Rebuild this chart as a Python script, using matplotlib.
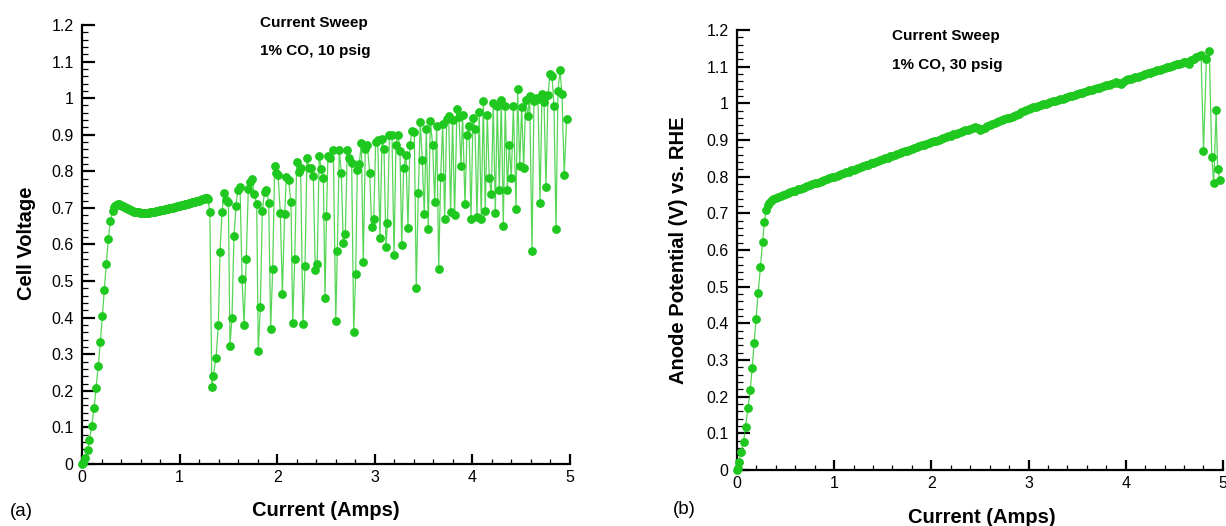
import matplotlib
matplotlib.use('Agg')
import matplotlib.pyplot as plt
from matplotlib.ticker import MultipleLocator, FuncFormatter

plt.rcParams['font.family'] = ['Liberation Sans', 'DejaVu Sans']

# (a) cell voltage, 1% CO, 10 psig
rise_a_i = [0.0, 0.013, 0.034, 0.058, 0.075, 0.099, 0.123, 0.143, 0.167, 0.188,
            0.208, 0.229, 0.249, 0.27, 0.29, 0.314]
rise_a_v = [0.0, 0.002, 0.016, 0.038, 0.066, 0.104, 0.152, 0.207, 0.269, 0.334,
            0.404, 0.475, 0.548, 0.614, 0.665, 0.692]

plateau_a_i = [0.33, 0.34, 0.35, 0.36, 0.37, 0.38, 0.39, 0.40, 0.41, 0.42,
               0.43, 0.44, 0.45, 0.46, 0.47, 0.48, 0.49, 0.50, 0.51, 0.52,
               0.53, 0.54, 0.55, 0.56, 0.57, 0.58, 0.59, 0.60, 0.61, 0.62,
               0.63, 0.64, 0.65, 0.66, 0.67, 0.68, 0.69, 0.70, 0.71, 0.72,
               0.73, 0.74, 0.75, 0.76, 0.77, 0.78, 0.79, 0.80, 0.81, 0.82,
               0.83, 0.84, 0.85, 0.86, 0.87, 0.88, 0.89, 0.90, 0.91, 0.92,
               0.93, 0.94, 0.95, 0.96, 0.97, 0.98, 0.99, 1.00, 1.01, 1.02,
               1.03, 1.04, 1.05, 1.06, 1.07, 1.08, 1.09, 1.10, 1.11, 1.12,
               1.13, 1.14, 1.15, 1.16, 1.17, 1.18, 1.19, 1.20, 1.21, 1.22,
               1.23, 1.24, 1.25, 1.26, 1.27, 1.28, 1.29]
plateau_a_v = [0.703, 0.706, 0.708, 0.709, 0.710, 0.710, 0.709, 0.708, 0.706, 0.705,
               0.703, 0.702, 0.700, 0.699, 0.697, 0.696, 0.694, 0.693, 0.692, 0.691,
               0.690, 0.690, 0.689, 0.689, 0.688, 0.688, 0.687, 0.687, 0.686, 0.686,
               0.686, 0.686, 0.686, 0.686, 0.686, 0.687, 0.687, 0.688, 0.688, 0.689,
               0.689, 0.690, 0.690, 0.691, 0.691, 0.692, 0.692, 0.693, 0.693, 0.694,
               0.695, 0.695, 0.696, 0.697, 0.697, 0.698, 0.699, 0.699, 0.700, 0.701,
               0.701, 0.702, 0.703, 0.703, 0.704, 0.705, 0.705, 0.706, 0.707, 0.707,
               0.708, 0.709, 0.709, 0.710, 0.711, 0.711, 0.712, 0.713, 0.714, 0.714,
               0.715, 0.716, 0.717, 0.717, 0.718, 0.719, 0.720, 0.720, 0.721, 0.722,
               0.723, 0.724, 0.725, 0.726, 0.727, 0.726, 0.724]

sweep_a_i = [1.31, 1.33, 1.345, 1.373, 1.397, 1.414, 1.434, 1.455, 1.475, 1.50,
             1.516, 1.537, 1.557, 1.578, 1.595, 1.619, 1.64, 1.66, 1.683, 1.704,
             1.72, 1.742, 1.766, 1.79, 1.806, 1.827, 1.848, 1.87, 1.89, 1.913,
             1.933, 1.954, 1.974, 1.988, 2.008, 2.032, 2.053, 2.076, 2.094, 2.117,
             2.141, 2.159, 2.18, 2.20, 2.22, 2.24, 2.264, 2.285, 2.305, 2.326,
             2.35, 2.37, 2.39, 2.41, 2.43, 2.452, 2.473, 2.49, 2.505, 2.52,
             2.54, 2.575, 2.60, 2.616, 2.636, 2.657, 2.677, 2.698, 2.718, 2.739,
             2.763, 2.784, 2.804, 2.821, 2.841, 2.862, 2.882, 2.903, 2.923, 2.948,
             2.968, 2.989, 3.009, 3.03, 3.053, 3.074, 3.094, 3.115, 3.13, 3.15,
             3.176, 3.197, 3.217, 3.238, 3.258, 3.276, 3.296, 3.32, 3.34, 3.36,
             3.381, 3.405, 3.425, 3.446, 3.466, 3.487, 3.507, 3.528, 3.548, 3.569,
             3.593, 3.614, 3.634, 3.655, 3.675, 3.696, 3.716, 3.737, 3.757, 3.777,
             3.797, 3.818, 3.842, 3.863, 3.883, 3.90, 3.924, 3.945, 3.965, 3.986,
             4.006, 4.027, 4.047, 4.07, 4.091, 4.112, 4.132, 4.153, 4.173, 4.194,
             4.214, 4.235, 4.255, 4.276, 4.296, 4.317, 4.337, 4.358, 4.378, 4.399,
             4.42, 4.447, 4.464, 4.485, 4.505, 4.526, 4.546, 4.567, 4.587, 4.611,
             4.631, 4.652, 4.672, 4.693, 4.713, 4.734, 4.754, 4.775, 4.795, 4.816,
             4.836, 4.857, 4.877, 4.898, 4.918, 4.941, 4.966]
sweep_a_v = [0.688, 0.21, 0.24, 0.29, 0.38, 0.58, 0.688, 0.742, 0.721, 0.715,
             0.322, 0.40, 0.623, 0.705, 0.749, 0.758, 0.505, 0.38, 0.561, 0.751,
             0.77, 0.778, 0.737, 0.71, 0.309, 0.429, 0.691, 0.744, 0.75, 0.714,
             0.369, 0.533, 0.815, 0.796, 0.791, 0.687, 0.464, 0.682, 0.785, 0.776,
             0.715, 0.386, 0.561, 0.825, 0.799, 0.808, 0.382, 0.542, 0.836, 0.81,
             0.809, 0.787, 0.53, 0.546, 0.842, 0.806, 0.781, 0.454, 0.678, 0.842,
             0.837, 0.858, 0.392, 0.582, 0.858, 0.796, 0.605, 0.628, 0.858, 0.837,
             0.824, 0.361, 0.518, 0.803, 0.82, 0.878, 0.553, 0.86, 0.873, 0.796,
             0.647, 0.669, 0.881, 0.885, 0.617, 0.888, 0.862, 0.594, 0.66, 0.899,
             0.90, 0.571, 0.872, 0.899, 0.856, 0.598, 0.81, 0.844, 0.646, 0.873,
             0.91, 0.908, 0.48, 0.74, 0.934, 0.83, 0.683, 0.915, 0.641, 0.937,
             0.872, 0.715, 0.924, 0.534, 0.785, 0.928, 0.671, 0.944, 0.952, 0.689,
             0.94, 0.68, 0.969, 0.949, 0.815, 0.955, 0.71, 0.90, 0.924, 0.669,
             0.946, 0.916, 0.674, 0.962, 0.669, 0.992, 0.692, 0.955, 0.781, 0.737,
             0.988, 0.687, 0.979, 0.749, 0.996, 0.651, 0.978, 0.75, 0.872, 0.781,
             0.978, 0.696, 1.024, 0.814, 0.977, 0.808, 0.996, 0.951, 1.005, 0.582,
             0.992, 1.001, 0.997, 0.714, 1.01, 0.99, 0.758, 1.008, 1.065, 1.061,
             0.979, 0.641, 1.019, 1.077, 1.01, 0.79, 0.943]

# (b) anode potential vs RHE, 1% CO, 30 psig
rise_b_i = [0.0, 0.007, 0.024, 0.04, 0.068, 0.089, 0.113, 0.137, 0.157, 0.177,
            0.198, 0.218, 0.242, 0.263, 0.283, 0.30, 0.317]
rise_b_v = [0.0, 0.005, 0.023, 0.05, 0.077, 0.118, 0.168, 0.218, 0.279, 0.345,
            0.413, 0.484, 0.554, 0.622, 0.677, 0.71, 0.722]

line_b_i = [0.325, 0.35, 0.375, 0.40, 0.425, 0.45, 0.475, 0.50, 0.525, 0.55,
            0.575, 0.60, 0.625, 0.65, 0.675, 0.70, 0.725, 0.75, 0.775, 0.80,
            0.825, 0.85, 0.875, 0.90, 0.925, 0.95, 0.975, 1.00, 1.025, 1.05,
            1.075, 1.10, 1.125, 1.15, 1.175, 1.20, 1.225, 1.25, 1.275, 1.30,
            1.325, 1.35, 1.375, 1.40, 1.425, 1.45, 1.475, 1.50, 1.525, 1.55,
            1.575, 1.60, 1.625, 1.65, 1.675, 1.70, 1.725, 1.75, 1.775, 1.80,
            1.825, 1.85, 1.875, 1.90, 1.925, 1.95, 1.975, 2.00, 2.025, 2.05,
            2.075, 2.10, 2.125, 2.15, 2.175, 2.20, 2.225, 2.25, 2.275, 2.30,
            2.325, 2.35, 2.375, 2.40, 2.425, 2.45, 2.475, 2.50, 2.525, 2.55,
            2.575, 2.60, 2.625, 2.65, 2.675, 2.70, 2.725, 2.75, 2.775, 2.80,
            2.825, 2.85, 2.875, 2.90, 2.925, 2.95, 2.975, 3.00, 3.025, 3.05,
            3.075, 3.10, 3.125, 3.15, 3.175, 3.20, 3.225, 3.25, 3.275, 3.30,
            3.325, 3.35, 3.375, 3.40, 3.425, 3.45, 3.475, 3.50, 3.525, 3.55,
            3.575, 3.60, 3.625, 3.65, 3.675, 3.70, 3.725, 3.75, 3.775, 3.80,
            3.825, 3.85, 3.875, 3.90, 3.925, 3.95, 3.975, 4.00, 4.025, 4.05,
            4.075, 4.10, 4.125, 4.15, 4.175, 4.20, 4.225, 4.25, 4.275, 4.30,
            4.325, 4.35, 4.375, 4.40, 4.425, 4.45, 4.475, 4.50, 4.525, 4.55,
            4.575, 4.60, 4.625, 4.65, 4.675, 4.70, 4.725, 4.75, 4.775]
line_b_v = [0.727, 0.733, 0.738, 0.741, 0.744, 0.747, 0.750, 0.752, 0.755, 0.757,
            0.760, 0.762, 0.765, 0.767, 0.770, 0.772, 0.775, 0.777, 0.780, 0.782,
            0.784, 0.786, 0.789, 0.791, 0.794, 0.796, 0.798, 0.800, 0.802, 0.805,
            0.807, 0.810, 0.812, 0.814, 0.817, 0.819, 0.822, 0.824, 0.826, 0.829,
            0.831, 0.833, 0.836, 0.838, 0.841, 0.843, 0.845, 0.848, 0.850, 0.852,
            0.855, 0.857, 0.860, 0.862, 0.864, 0.866, 0.869, 0.871, 0.874, 0.876,
            0.878, 0.880, 0.883, 0.885, 0.887, 0.889, 0.892, 0.894, 0.896, 0.898,
            0.901, 0.903, 0.905, 0.907, 0.910, 0.912, 0.915, 0.917, 0.919, 0.921,
            0.924, 0.926, 0.928, 0.930, 0.933, 0.935, 0.932, 0.927, 0.930, 0.934,
            0.938, 0.941, 0.944, 0.946, 0.949, 0.951, 0.954, 0.956, 0.959, 0.961,
            0.963, 0.966, 0.969, 0.972, 0.976, 0.979, 0.982, 0.985, 0.987, 0.989,
            0.991, 0.993, 0.995, 0.997, 0.999, 1.001, 1.003, 1.005, 1.007, 1.009,
            1.011, 1.013, 1.015, 1.017, 1.019, 1.021, 1.023, 1.025, 1.027, 1.029,
            1.031, 1.033, 1.035, 1.037, 1.039, 1.041, 1.043, 1.045, 1.047, 1.049,
            1.051, 1.053, 1.055, 1.057, 1.056, 1.054, 1.059, 1.063, 1.065, 1.067,
            1.069, 1.071, 1.073, 1.075, 1.077, 1.079, 1.082, 1.084, 1.086, 1.088,
            1.090, 1.092, 1.094, 1.096, 1.098, 1.100, 1.102, 1.104, 1.106, 1.108,
            1.110, 1.112, 1.113, 1.108, 1.117, 1.122, 1.126, 1.130, 1.131]

tail_b_i = [4.80, 4.83, 4.86, 4.885, 4.905, 4.93, 4.946, 4.97]
tail_b_v = [0.871, 1.12, 1.142, 0.854, 0.782, 0.982, 0.82, 0.791]

GREEN = '#1ec81e'


def style_axes(ax):
    ax.spines['top'].set_visible(False)
    ax.spines['right'].set_visible(False)
    ax.spines['left'].set_linewidth(1.6)
    ax.spines['bottom'].set_linewidth(1.6)
    ax.set_xlim(0, 5)
    ax.set_ylim(0, 1.2)
    ax.xaxis.set_major_locator(MultipleLocator(1))
    ax.xaxis.set_minor_locator(MultipleLocator(0.2))
    ax.yaxis.set_major_locator(MultipleLocator(0.1))
    ax.yaxis.set_minor_locator(MultipleLocator(0.02))
    ax.yaxis.set_major_formatter(FuncFormatter(lambda v, p: f'{round(v, 2):g}'))
    ax.xaxis.set_major_formatter(FuncFormatter(lambda v, p: f'{round(v, 2):g}'))
    ax.tick_params(axis='y', which='major', direction='in', length=9, width=1.6,
                   labelsize=11.5, pad=6)
    ax.tick_params(axis='y', which='minor', direction='in', length=4.5, width=0.9)
    ax.tick_params(axis='x', which='major', direction='in', length=7, width=1.6,
                   labelsize=11.5, pad=4)
    ax.tick_params(axis='x', which='minor', direction='in', length=3.5, width=0.9)


def main():
    fig = plt.figure(figsize=(12.26, 5.26), dpi=100)
    ax1 = fig.add_axes([0.0669, 0.1179, 0.398, 0.8346])
    ax2 = fig.add_axes([0.6011, 0.1065, 0.3964, 0.8365])

    cell_i = rise_a_i + plateau_a_i + sweep_a_i
    cell_v = rise_a_v + plateau_a_v + sweep_a_v
    anode_i = rise_b_i + line_b_i + tail_b_i
    anode_v = rise_b_v + line_b_v + tail_b_v

    for ax, xs, ys in [(ax1, cell_i, cell_v), (ax2, anode_i, anode_v)]:
        ax.plot(xs, ys, color=GREEN, lw=0.9, alpha=0.75, zorder=2, clip_on=False)
        ax.plot(xs, ys, ls='none', marker='o', ms=5.3, color=GREEN, mec=GREEN,
                zorder=3, clip_on=False)
        style_axes(ax)

    ax1.set_xlabel('Current (Amps)', fontsize=14.5, fontweight='bold')
    ax1.xaxis.set_label_coords(0.5, -0.105)
    ax1.xaxis.label.set_verticalalignment('center')
    ax1.set_ylabel('Cell Voltage', fontsize=14.5, fontweight='bold')
    ax1.yaxis.set_label_coords(-0.113, 0.503)
    ax1.yaxis.label.set_verticalalignment('center')

    ax2.set_xlabel('Current (Amps)', fontsize=14.5, fontweight='bold')
    ax2.xaxis.set_label_coords(0.504, -0.107)
    ax2.xaxis.label.set_verticalalignment('center')
    ax2.set_ylabel('Anode Potential (V) vs. RHE', fontsize=14.5, fontweight='bold')
    ax2.yaxis.set_label_coords(-0.121, 0.5)
    ax2.yaxis.label.set_verticalalignment('center')

    ax1.text(0.365, 1.005, 'Current Sweep', transform=ax1.transAxes,
             fontsize=11, fontweight='bold', va='center', ha='left')
    ax1.text(0.365, 0.941, '1% CO, 10 psig', transform=ax1.transAxes,
             fontsize=11, fontweight='bold', va='center', ha='left')
    ax2.text(0.319, 0.986, 'Current Sweep', transform=ax2.transAxes,
             fontsize=11, fontweight='bold', va='center', ha='left')
    ax2.text(0.319, 0.920, '1% CO, 30 psig', transform=ax2.transAxes,
             fontsize=11, fontweight='bold', va='center', ha='left')

    fig.text(10 / 1226, 1 - 512 / 526, '(a)', fontsize=13.5, va='center', ha='left')
    fig.text(673 / 1226, 1 - 510 / 526, '(b)', fontsize=13.5, va='center', ha='left')

    fig.savefig('out.png', dpi=100)


if __name__ == '__main__':
    main()
